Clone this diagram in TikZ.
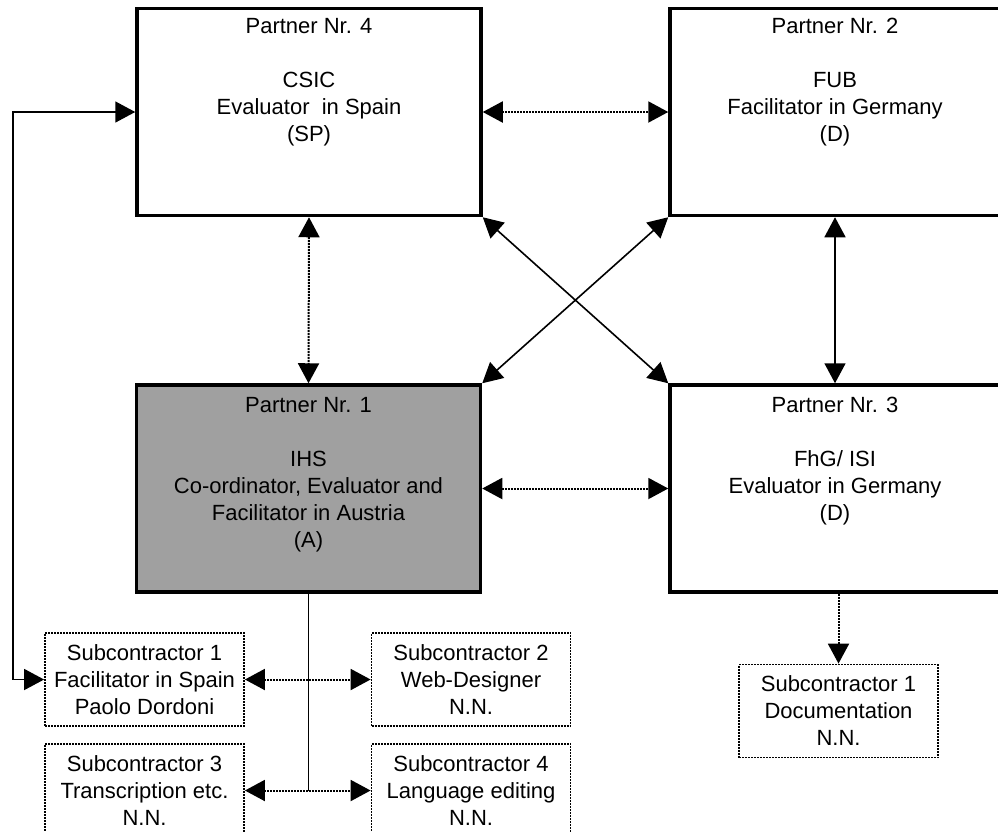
\documentclass[tikz,border=0pt]{standalone}
\usepackage{fontspec}
\setmainfont{Liberation Sans}
\usetikzlibrary{arrows.meta, positioning}
\definecolor{pgrey}{HTML}{A0A0A0}
\tikzset{
  every picture/.style={x=1pt, y=-1pt, font=\fontsize{22}{27}\selectfont, >={Triangle[length=20pt,width=21pt]}},
  partner/.style={draw, line width=3.5pt, minimum width=344pt, minimum height=207pt, inner sep=0pt},
  ptext/.style={anchor=north, align=center, inner sep=0pt},
  sub/.style={draw, line width=1.8pt, dash pattern=on 2pt off 1pt, minimum width=199pt, minimum height=93pt, align=center, inner sep=0pt},
  link/.style={line width=1.6pt, <->},
  dotlink/.style={link, line width=2pt, dash pattern=on 2pt off 1pt},
}

\begin{document}
\begin{tikzpicture}
  \useasboundingbox (0,0) rectangle (998,831);
  % the four partners
  \node[partner, label={[ptext, yshift=-11pt]north:{Partner Nr. 4\\[27pt]CSIC\\Evaluator~ in Spain\\(SP)}}] (p4) at (309,112) {};
  \node[partner, minimum width=330pt, label={[ptext, yshift=-11pt]north:{Partner Nr. 2\\[27pt]FUB\\Facilitator in Germany\\(D)}}] (p2) at (835,112) {};
  \node[partner, fill=pgrey, label={[ptext, yshift=-14pt]north:{Partner Nr. 1\\[27pt]IHS\\Co-ordinator, Evaluator and\\Facilitator in Austria\\(A)}}] (p1) at (308.5,488.5) {};
  \node[partner, minimum width=330pt, label={[ptext, yshift=-14pt]north:{Partner Nr. 3\\[27pt]FhG/ ISI\\Evaluator in Germany\\(D)}}] (p3) at (835,488.5) {};
  % subcontractors
  \node[sub] (s1) at (144.5,679.5) {Subcontractor 1\\Facilitator in Spain\\ Paolo Dordoni};
  \node[sub] (s2) at (471,679.5) {Subcontractor 2\\Web-Designer\\N.N.};
  \node[sub] (s3) at (144.5,790.5) {Subcontractor 3\\Transcription etc.\\N.N.};
  \node[sub] (s4) at (471,790.5) {Subcontractor 4\\Language editing\\N.N.};
  \node[sub] (doc) at (838.5,711) {Subcontractor 1\\Documentation\\N.N.};
  % links between partners
  \draw[dotlink] (p4.east) -- (p2.west);
  \draw[dotlink] (p4.south) -- (p1.north);
  \draw[link] (p2.south) -- (p3.north);
  \draw[dotlink] (p1.east) -- (p3.west);
  \draw[link] (p4.south east) -- (p3.north west);
  \draw[link] (p2.south west) -- (p1.north east);
  % loop round the left side to subcontractor 1
  \coordinate (lp) at (13,112);
  \draw[link] (p4.west) -- (lp) |- (s1.west);
  % trunk below partner 1
  \coordinate (tk) at (p1.south |- s3.east);
  \draw[line width=1.6pt] (p1.south) -- (tk);
  \draw[dotlink] (s1.east) -- (s2.west);
  \draw[dotlink] (s3.east) -- (s4.west);
  \draw[dotlink, ->] (doc.north |- p3.south) -- (doc.north);
\end{tikzpicture}
\end{document}
